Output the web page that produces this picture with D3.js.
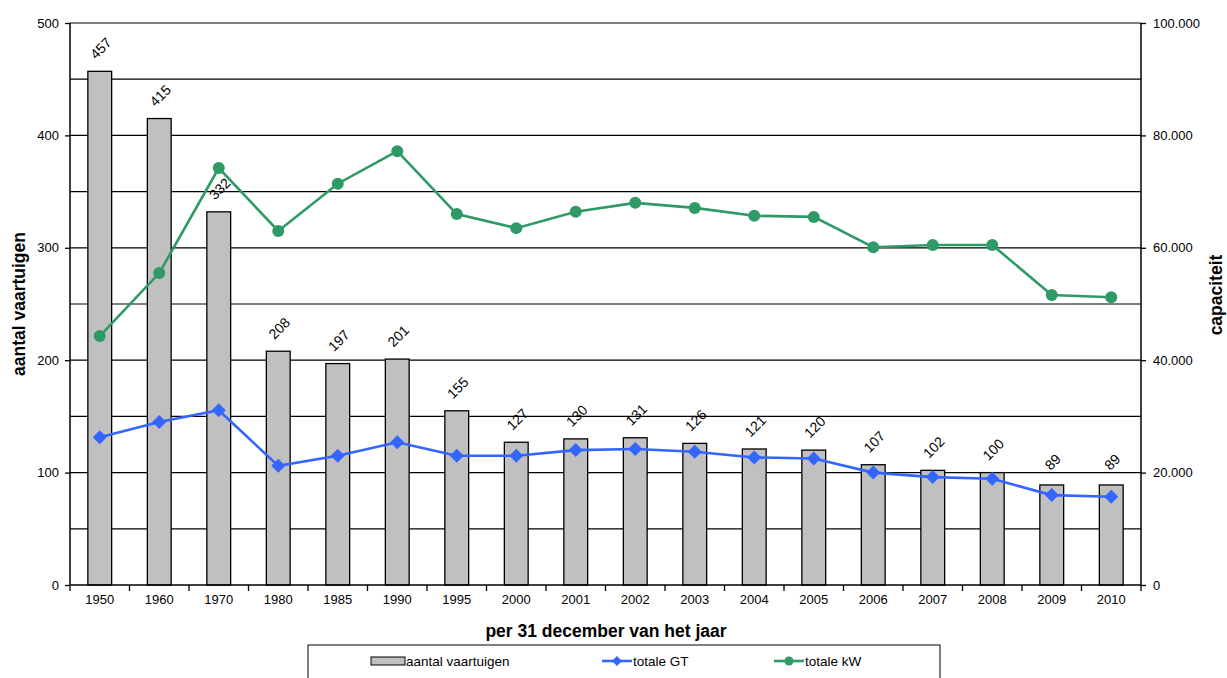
<!DOCTYPE html>
<html><head><meta charset="utf-8">
<script src="https://cdn.jsdelivr.net/npm/d3@7"></script>
<style>body{margin:0;background:#fff;font-family:"Liberation Sans",Arial,sans-serif;}</style>
</head><body>
<svg id="c" width="1227" height="678"></svg>
<script>
const years = ["1950","1960","1970","1980","1985","1990","1995","2000","2001","2002","2003","2004","2005","2006","2007","2008","2009","2010"];
const vessels = [457,415,332,208,197,201,155,127,130,131,126,121,120,107,102,100,89,89];
const totalGT = [26300,29000,31100,21200,23000,25400,23000,23000,24000,24200,23700,22700,22500,20000,19200,18900,16000,15700];
const totalKW = [44300,55500,74200,63000,71400,77200,66000,63500,66400,68000,67100,65700,65500,60100,60500,60500,51600,51200];
const leftTicks = [0,100,200,300,400,500];
const rightTicks = [0,20000,40000,60000,80000,100000];
const gridVals = [50,100,150,200,250,300,350,400,450,500];

const svg = d3.select("#c");
const L=70, R=1141, T=23, B=585;
const x = d3.scaleBand().domain(years).range([L,R]).paddingInner(0.6).paddingOuter(0.3);
const xc = d => x(d) + x.bandwidth()/2;
const yL = d3.scaleLinear().domain([0,500]).range([B,T]);
const yR = d3.scaleLinear().domain([0,100000]).range([B,T]);
const font = '"Liberation Sans",Arial,sans-serif';

// gridlines
svg.append("g").selectAll("line").data(gridVals).join("line")
  .attr("x1",L).attr("x2",R).attr("y1",d=>yL(d)).attr("y2",d=>yL(d))
  .attr("stroke","#000").attr("stroke-width",1.2);

// bars
svg.append("g").selectAll("rect").data(vessels).join("rect")
  .attr("x",(d,i)=>x(years[i])).attr("width",x.bandwidth())
  .attr("y",d=>yL(d)).attr("height",d=>B-yL(d))
  .attr("fill","#c0c0c0").attr("stroke","#000").attr("stroke-width",1.3);

// bar labels
svg.append("g").selectAll("text").data(vessels).join("text")
  .attr("transform",(d,i)=>`translate(${xc(years[i])+1},${yL(d)-23}) rotate(-45)`)
  .attr("text-anchor","middle").attr("dy","0.35em")
  .attr("font-family",font).attr("font-size",14).attr("fill","#000")
  .text(d=>d);

// axes
const axL = svg.append("g").attr("transform",`translate(${L},0)`)
  .call(d3.axisLeft(yL).tickValues(leftTicks).tickSize(5).tickPadding(6));
const axR = svg.append("g").attr("transform",`translate(${R},0)`)
  .call(d3.axisRight(yR).tickValues(rightTicks).tickSize(5).tickPadding(7)
  .tickFormat(d=>d===0?"0":d3.format(",")(d).replace(/,/g,".")));
const axB = svg.append("g").attr("transform",`translate(0,${B})`)
  .call(d3.axisBottom(x).tickSize(0).tickPadding(10));
// band boundary ticks
const bounds = years.map(d=>x(d)-(x.step()-x.bandwidth())/2).concat([R]);
svg.append("g").selectAll("line").data(bounds).join("line")
  .attr("x1",d=>d).attr("x2",d=>d)
  .attr("y1",B).attr("y2",B+6).attr("stroke","#000").attr("stroke-width",1.3);
[axL,axR,axB].forEach(a=>{
  a.selectAll("path.domain").attr("stroke","#000").attr("stroke-width",1.5);
  a.selectAll("line").attr("stroke","#000").attr("stroke-width",1.3);
  a.selectAll("text").attr("font-family",font).attr("font-size",13).attr("fill","#000");
});
axL.select("path.domain").attr("d",`M0,${B}V${T}`);
axR.select("path.domain").attr("d",`M0,${B}V${T}`);
axB.select("path.domain").attr("d",`M${L},0H${R}`);

// lines
const lineGen = d3.line().x((d,i)=>xc(years[i])).y(d=>yR(d));
svg.append("path").datum(totalKW).attr("d",lineGen).attr("fill","none")
  .attr("stroke","#2e9a66").attr("stroke-width",2.6);
svg.append("g").selectAll("circle").data(totalKW).join("circle")
  .attr("cx",(d,i)=>xc(years[i])).attr("cy",d=>yR(d)).attr("r",6)
  .attr("fill","#2e9a66");
svg.append("path").datum(totalGT).attr("d",lineGen).attr("fill","none")
  .attr("stroke","#3366ff").attr("stroke-width",2.6);
svg.append("g").selectAll("path.dm").data(totalGT).join("path")
  .attr("d",(d,i)=>{const cx=xc(years[i]),cy=yR(d),s=7;return `M${cx},${cy-s}L${cx+s},${cy}L${cx},${cy+s}L${cx-s},${cy}Z`;})
  .attr("fill","#3366ff");

// axis titles
svg.append("text").attr("transform","translate(25,304) rotate(-90)")
  .attr("text-anchor","middle").attr("font-family",font).attr("font-weight","bold")
  .attr("font-size",17.5).text("aantal vaartuigen");
svg.append("text").attr("transform","translate(1222,295) rotate(-90)")
  .attr("text-anchor","middle").attr("font-family",font).attr("font-weight","bold")
  .attr("font-size",17.5).text("capaciteit");
svg.append("text").attr("x",606).attr("y",637)
  .attr("text-anchor","middle").attr("font-family",font).attr("font-weight","bold")
  .attr("font-size",17.5).text("per 31 december van het jaar");

// legend
const lg = svg.append("g");
lg.append("rect").attr("x",308).attr("y",645).attr("width",632).attr("height",40)
  .attr("fill","#fff").attr("stroke","#000").attr("stroke-width",1);
lg.append("rect").attr("x",371).attr("y",657).attr("width",34).attr("height",8)
  .attr("fill","#c0c0c0").attr("stroke","#000").attr("stroke-width",1);
lg.append("text").attr("x",406).attr("y",666).attr("font-family",font).attr("font-size",13.5).text("aantal vaartuigen");
lg.append("line").attr("x1",602).attr("x2",632).attr("y1",661).attr("y2",661).attr("stroke","#3366ff").attr("stroke-width",2.6);
lg.append("path").attr("d","M617,656L622,661L617,666L612,661Z").attr("fill","#3366ff");
lg.append("text").attr("x",633).attr("y",666).attr("font-family",font).attr("font-size",13.5).text("totale GT");
lg.append("line").attr("x1",774).attr("x2",804).attr("y1",661).attr("y2",661).attr("stroke","#2e9a66").attr("stroke-width",2.6);
lg.append("circle").attr("cx",789).attr("cy",661).attr("r",4.5).attr("fill","#2e9a66");
lg.append("text").attr("x",805).attr("y",666).attr("font-family",font).attr("font-size",13.5).text("totale kW");
</script>
</body></html>
